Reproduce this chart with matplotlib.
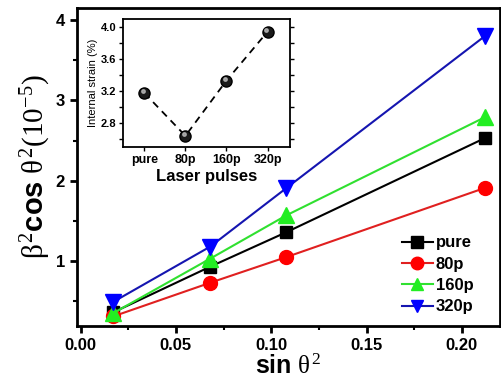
import matplotlib
matplotlib.use('Agg')
import matplotlib.pyplot as plt
from matplotlib.ticker import MultipleLocator, FormatStrFormatter

plt.rcParams['font.family'] = ['Liberation Sans', 'DejaVu Sans']
plt.rcParams['font.weight'] = 'bold'
plt.rcParams['axes.labelweight'] = 'bold'
plt.rcParams['mathtext.fontset'] = 'custom'
plt.rcParams['mathtext.rm'] = 'Liberation Serif:normal'
plt.rcParams['mathtext.it'] = 'Liberation Serif:normal'
plt.rcParams['mathtext.bf'] = 'Liberation Sans:bold'

# main data
sin2 = [0.017, 0.068, 0.108, 0.212]
pure = [0.36, 0.93, 1.36, 2.53]
p80 = [0.31, 0.73, 1.05, 1.91]
p160 = [0.35, 1.03, 1.57, 2.79]
p320 = [0.49, 1.18, 1.91, 3.80]

# inset data
pulses = ['pure', '80p', '160p', '320p']
strain = [3.175, 2.64, 3.33, 3.94]

fig = plt.figure(figsize=(5.02, 3.85), dpi=100)
ax = fig.add_axes([0.153, 0.153, 0.843, 0.826])

ax.plot(sin2, pure, '-s', color='black', mfc='black', mec='black', lw=1.5, ms=9, label='pure')
ax.plot(sin2, p80, '-o', color='#e02020', mfc='#ff0000', mec='#ff0000', lw=1.5, ms=10, label='80p')
ax.plot(sin2, p160, '-^', color='#30e030', mfc='#22ee22', mec='#22ee22', lw=1.5, ms=11, label='160p')
ax.plot(sin2, p320, '-v', color='#1515b0', mfc='#0000ff', mec='#0000ff', lw=1.5, ms=11, label='320p')

ax.set_xlim(-0.002, 0.22)
ax.set_ylim(0.19, 4.15)
ax.xaxis.set_major_locator(MultipleLocator(0.05))
ax.xaxis.set_minor_locator(MultipleLocator(0.025))
ax.yaxis.set_major_locator(MultipleLocator(1))
ax.yaxis.set_minor_locator(MultipleLocator(0.5))
ax.xaxis.set_major_formatter(FormatStrFormatter('%.2f'))
ax.tick_params(which='major', direction='out', length=5, width=2, labelsize=12)
ax.tick_params(which='minor', direction='out', length=3, width=1.5)
for s in ax.spines.values():
    s.set_linewidth(2)

ax.set_xlabel(r'$\mathbf{sin}\ \theta^2$', fontsize=18, labelpad=1)
ax.set_ylabel(r'$\beta^2\mathbf{cos}\ \theta^2(10^{-5})$', fontsize=21, labelpad=2)

leg = ax.legend(loc='lower right', bbox_to_anchor=(0.965, 0.0), frameon=False,
                fontsize=12, handlelength=1.9, handletextpad=0.15, labelspacing=0.38,
                borderpad=0.2)
for h in leg.legend_handles:
    h.set_markersize(9)

# inset
ins = fig.add_axes([0.245, 0.618, 0.333, 0.333])
ins.plot(range(len(pulses)), strain, '--o', color='black', lw=1.3, dashes=(4, 3),
         mfc='#1a1a1a', mec='#000000', ms=8)
ins.plot(range(len(pulses)), strain, 'o', color='#bbbbbb', ms=2.5, alpha=0.8,
         transform=ins.transData + matplotlib.transforms.ScaledTranslation(-1.5 / 100, 1.5 / 100, fig.dpi_scale_trans))
ins.set_xticks(range(len(pulses)))
ins.set_xticklabels(pulses)
ins.set_xlim(-0.52, 3.55)
ins.set_ylim(2.5, 4.1)
ins.yaxis.set_major_locator(MultipleLocator(0.4))
ins.yaxis.set_minor_locator(MultipleLocator(0.2))
ins.yaxis.set_major_formatter(FormatStrFormatter('%.1f'))
ins.tick_params(which='both', direction='out', length=3, width=1, pad=2)
ins.tick_params(axis='x', labelsize=9)
ins.tick_params(axis='y', labelsize=8)
ins.tick_params(axis='y', which='both', right=True)
for s in ins.spines.values():
    s.set_linewidth(1.3)
ins.set_ylabel('Internal strain (%)', fontsize=8, fontweight='normal', labelpad=2)
ins.set_xlabel('Laser pulses', fontsize=12, labelpad=2)

fig.savefig('out.png', dpi=100)
